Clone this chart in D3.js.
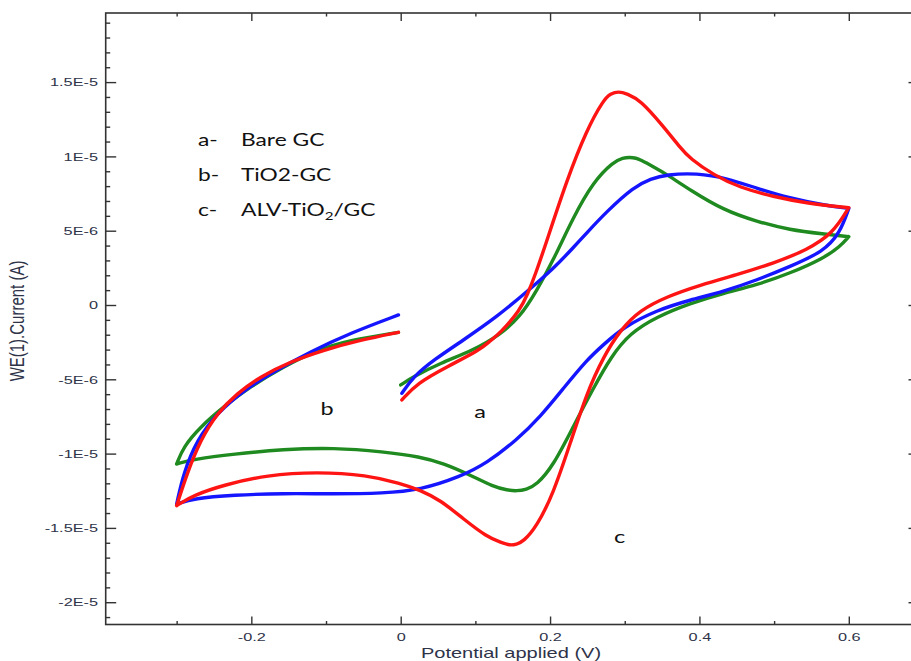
<!DOCTYPE html>
<html>
<head>
<meta charset="utf-8">
<script src="https://cdn.jsdelivr.net/npm/d3@7"></script>
<style>
  body { margin: 0; background: #fff; }
  svg { display: block; }
</style>
</head>
<body>
<svg id="chart" width="911" height="661"></svg>
<script>
// Cyclic voltammograms: potential (V) against current (µA).
// Each scan starts near 0 V, runs to 0.6 V, back to -0.3 V and returns to 0 V.
const bareGC = [
  [0.0016, -5.94], [0.017, -4.82], [0.044, -3.70], [0.084, -2.36], [0.129, -0.79],
  [0.169, 0.9], [0.2045, 2.45], [0.231, 3.85], [0.249, 4.85], [0.276, 6.3],
  [0.312, 7.95], [0.335, 8.5], [0.356, 8.78], [0.3965, 8.88], [0.437, 8.53], [0.477, 7.85],
  [0.521, 7.18], [0.566, 6.73], [0.600, 6.5],
  [0.588, 4.83], [0.566, 3.59], [0.521, 2.58], [0.477, 1.68], [0.432, 0.90],
  [0.3875, 0.34], [0.343, -0.34], [0.298, -1.5], [0.272, -2.65], [0.249, -3.70], [0.218, -5.6],
  [0.187, -7.52], [0.1555, -9.08], [0.115, -10.65], [0.080, -11.55], [0.026, -12.45],
  [-0.023, -12.67], [-0.090, -12.72], [-0.157, -12.67], [-0.224, -12.79], [-0.277, -13.01],
  [-0.300, -13.4],
  [-0.291, -11.33], [-0.273, -9.08], [-0.246, -7.29], [-0.210, -5.72], [-0.166, -4.37],
  [-0.121, -3.15], [-0.068, -1.90], [-0.003, -0.67]
];

const tio2GC = [
  [0.000, -5.38], [0.017, -4.82], [0.053, -3.92], [0.0975, -3.03], [0.133, -2.0],
  [0.160, -0.79], [0.182, 0.95], [0.2045, 3.03], [0.231, 5.9], [0.258, 8.3],
  [0.285, 9.64], [0.2975, 9.9], [0.307, 9.95], [0.3155, 9.88], [0.3205, 9.78], [0.338, 9.31], [0.356, 8.8],
  [0.3875, 7.74], [0.432, 6.39], [0.477, 5.61], [0.521, 5.05], [0.566, 4.78],
  [0.600, 4.6],
  [0.588, 3.92], [0.566, 3.14], [0.521, 2.13], [0.477, 1.35], [0.432, 0.79],
  [0.3875, 0.11], [0.343, -0.79], [0.307, -1.90], [0.282, -3.45], [0.258, -5.6],
  [0.231, -8.19], [0.2045, -10.8], [0.182, -12.11], [0.168, -12.42], [0.1555, -12.52],
  [0.143, -12.46], [0.124, -12.23],
  [0.093, -11.44], [0.057, -10.65], [0.026, -10.21], [-0.023, -9.87], [-0.090, -9.60],
  [-0.157, -9.71], [-0.224, -10.03], [-0.277, -10.38], [-0.300, -10.7],
  [-0.291, -9.54], [-0.268, -8.19], [-0.237, -6.84], [-0.2015, -5.50], [-0.157, -4.15],
  [-0.112, -3.03], [-0.068, -2.36], [-0.003, -1.84]
];

const alvTio2GC = [
  [0.0016, -6.39], [0.0217, -5.27], [0.062, -4.15], [0.106, -3.03], [0.120, -2.4],
  [0.133, -1.90], [0.160, -0.34], [0.170, 0.75], [0.180, 2.0], [0.196, 4.37],
  [0.2225, 8.41], [0.249, 11.78], [0.2715, 13.80], [0.281, 14.22], [0.2916, 14.38],
  [0.303, 14.22], [0.3206, 13.80],
  [0.352, 12.00], [0.374, 10.6], [0.3875, 9.85], [0.419, 8.75], [0.454, 7.9],
  [0.499, 7.29], [0.544, 6.84], [0.600, 6.55],
  [0.579, 4.83], [0.544, 3.70], [0.499, 2.81], [0.4545, 2.1], [0.401, 1.35],
  [0.356, 0.56], [0.3206, -0.34], [0.294, -1.68], [0.2715, -3.48], [0.249, -5.94],
  [0.227, -9.31], [0.2045, -12.67], [0.182, -14.92], [0.164, -15.93], [0.155, -16.1],
  [0.1466, -16.18], [0.135, -16.0],
  [0.115, -15.59], [0.084, -14.4], [0.053, -13.12], [0.026, -12.45], [-0.0007, -12.0],
  [-0.045, -11.44], [-0.112, -11.22], [-0.179, -11.44], [-0.237, -12.11], [-0.277, -12.79],
  [-0.300, -13.5],
  [-0.286, -11.33], [-0.268, -9.08], [-0.246, -7.29], [-0.219, -5.94], [-0.188, -4.82],
  [-0.148, -3.82], [-0.103, -3.03], [-0.054, -2.36], [-0.003, -1.84]
];

const xTickValues = [-0.2, 0, 0.2, 0.4, 0.6];
const xTickLabels = ["-0.2", "0", "0.2", "0.4", "0.6"];
const yTickValues = [-20, -15, -10, -5, 0, 5, 10, 15];
const yTickLabels = ["-2E-5", "-1.5E-5", "-1E-5", "-5E-6", "0", "5E-6", "1E-5", "1.5E-5"];

const legendKeys = ["a-", "b-", "c-"];
const legendNames = ["Bare GC", "TiO2-GC", "ALV-TiO₂/GC"];
const curveLetters = ["a", "b", "c"];

const xTitle = "Potential applied (V)";
const yTitle = "WE(1).Current (A)";

// ---- layout ----
const SX = 1.38;                 // horizontal stretch of all lettering
const axisColor = "#333333";
const labelColor = "#2e3348";
const tickFont = "'Liberation Sans', Arial, sans-serif";
const noteFont = "Lato, 'Open Sans', sans-serif";

const svg = d3.select("#chart");

const x = d3.scaleLinear().domain([-0.395, 0.694]).range([105.7, 919]);
const y = d3.scaleLinear().domain([-21.5, 19.65]).range([624.5, 13]);

const [x0, x1] = x.range();
const [yb, yt] = y.range();

const xMinor = d3.range(-0.3, 0.65, 0.1).map(v => +v.toFixed(2)).filter(v => !xTickValues.some(t => Math.abs(t - v) < 1e-9));
const yMinor = d3.range(-21, 20, 1).filter(v => !yTickValues.includes(v));

// ---- curves ----
// split a scan into monotonic sweeps so the switching points stay sharp
function scanSegments(pts) {
  const segs = [];
  let cur = [pts[0]];
  let dir = Math.sign(pts[1][0] - pts[0][0]);
  for (let k = 1; k < pts.length; k++) {
    const d = Math.sign(pts[k][0] - pts[k - 1][0]);
    if (d !== 0 && d !== dir) {
      segs.push(cur);
      cur = [pts[k - 1]];
      dir = d;
    }
    cur.push(pts[k]);
  }
  segs.push(cur);
  return segs;
}

const line = d3.line()
  .x(d => x(d[0]))
  .y(d => y(d[1]))
  .curve(d3.curveBasis);

const series = [
  { data: tio2GC, color: "#1f8a1f" },
  { data: bareGC, color: "#1515ff" },
  { data: alvTio2GC, color: "#ff1414" }
];

const curveG = svg.append("g");
series.forEach(s => {
  curveG.append("path")
    .attr("d", scanSegments(s.data).map(seg => line(seg)).join(""))
    .attr("fill", "none")
    .attr("stroke", s.color)
    .attr("stroke-width", 3.4)
    .attr("stroke-linecap", "round")
    .attr("stroke-linejoin", "round");
});

// ---- axes (ticks point into the plot) ----
function styleTicks(g, w) {
  g.select(".domain").remove();
  g.selectAll(".tick line").attr("stroke", axisColor).attr("stroke-width", w);
}

const bottomMajor = svg.append("g").attr("transform", `translate(0,${yb})`)
  .call(d3.axisBottom(x).tickValues(xTickValues).tickFormat((d, i) => xTickLabels[i])
    .tickSizeInner(-8).tickSizeOuter(0).tickPadding(8.6));
styleTicks(bottomMajor, 1.4);
bottomMajor.selectAll(".tick text")
  .attr("transform", `scale(${SX},1)`)
  .style("font-family", tickFont).style("font-size", "11.8px").attr("fill", labelColor);

svg.append("g").attr("transform", `translate(0,${yb})`)
  .call(d3.axisBottom(x).tickValues(xMinor).tickFormat("").tickSizeInner(-3.5).tickSizeOuter(0))
  .call(g => styleTicks(g, 1.4));

svg.append("g").attr("transform", `translate(0,${yt})`)
  .call(d3.axisTop(x).tickValues(xTickValues).tickFormat("").tickSizeInner(-8).tickSizeOuter(0))
  .call(g => styleTicks(g, 1.4));
svg.append("g").attr("transform", `translate(0,${yt})`)
  .call(d3.axisTop(x).tickValues(xMinor).tickFormat("").tickSizeInner(-3.5).tickSizeOuter(0))
  .call(g => styleTicks(g, 1.4));

const leftMajor = svg.append("g").attr("transform", `translate(${x0},0)`)
  .call(d3.axisLeft(y).tickValues(yTickValues).tickFormat((d, i) => yTickLabels[i])
    .tickSizeInner(-10.5).tickSizeOuter(0).tickPadding(5.6));
styleTicks(leftMajor, 1.4);
leftMajor.selectAll(".tick text")
  .attr("transform", `scale(${SX},1)`)
  .style("font-family", tickFont).style("font-size", "11.8px").attr("fill", labelColor);

svg.append("g").attr("transform", `translate(${x0},0)`)
  .call(d3.axisLeft(y).tickValues(yMinor).tickFormat("").tickSizeInner(-4.5).tickSizeOuter(0))
  .call(g => styleTicks(g, 1.4));

svg.append("g").attr("transform", `translate(${x1},0)`)
  .call(d3.axisRight(y).tickValues(yTickValues).tickFormat("").tickSizeInner(-10.5).tickSizeOuter(0))
  .call(g => styleTicks(g, 1.4));

// plot frame
svg.append("rect")
  .attr("x", x0).attr("y", yt)
  .attr("width", x1 - x0).attr("height", yb - yt)
  .attr("fill", "none").attr("stroke", axisColor).attr("stroke-width", 1.6);

// ---- axis titles ----
svg.append("text")
  .attr("transform", `translate(511,657.5) scale(${SX},1)`)
  .attr("text-anchor", "middle")
  .style("font-family", tickFont).style("font-size", "14.5px")
  .attr("fill", labelColor)
  .text(xTitle);

svg.append("text")
  .attr("transform", `translate(24,321) scale(${SX},1) rotate(-90)`)
  .attr("text-anchor", "middle")
  .style("font-family", tickFont).style("font-size", "15px")
  .attr("fill", labelColor)
  .text(yTitle);

// ---- legend notes ----
const legendTop = 146, legendStep = 35;
const legendG = svg.append("g");
legendKeys.forEach((k, i) => {
  const by = legendTop + i * legendStep;
  legendG.append("text")
    .attr("transform", `translate(198,${by}) scale(${SX},1)`)
    .style("font-family", noteFont).style("font-size", "16.5px").attr("fill", "#111")
    .text(k);
  const t = legendG.append("text")
    .attr("transform", `translate(241,${by}) scale(${SX},1)`)
    .style("font-family", noteFont).style("font-size", "16.5px").attr("fill", "#111");
  // the 2 of TiO₂ is set as a lowered, smaller digit
  const name = legendNames[i];
  const sub = name.indexOf("₂");
  if (sub >= 0) {
    t.append("tspan").text(name.slice(0, sub));
    t.append("tspan").attr("dy", 4).style("font-size", "11px").text("2");
    t.append("tspan").attr("dy", -4).text(name.slice(sub + 1));
  } else {
    t.text(name);
  }
});

// curve letters placed in data coordinates
const letterPos = [[0.1064, -7.6], [-0.0985, -7.4], [0.293, -16.0]];
curveLetters.forEach((c, i) => {
  svg.append("text")
    .attr("transform", `translate(${x(letterPos[i][0])},${y(letterPos[i][1])}) scale(${SX},1)`)
    .attr("text-anchor", "middle")
    .style("font-family", noteFont).style("font-size", "17px").attr("fill", "#111")
    .text(c);
});
</script>
</body>
</html>
